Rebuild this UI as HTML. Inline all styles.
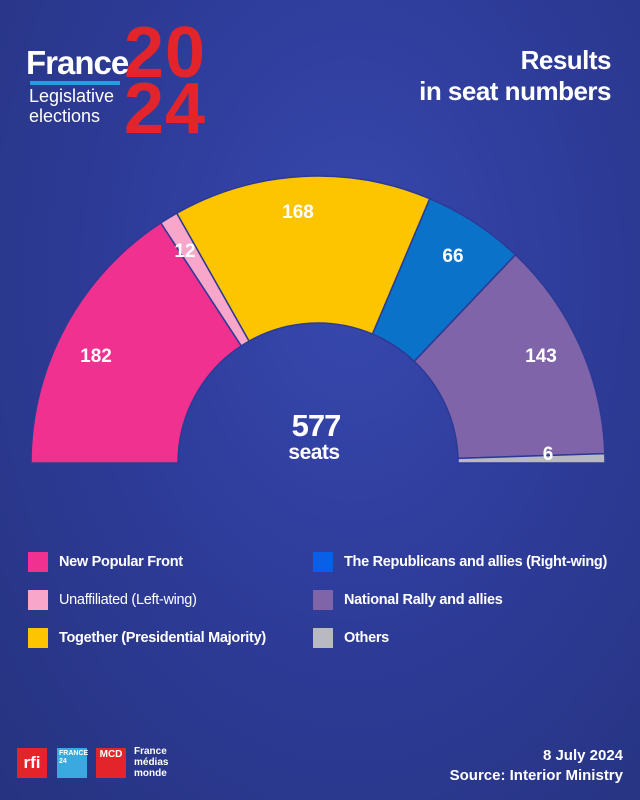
<!DOCTYPE html>
<html><head><meta charset="utf-8"><style>
body{margin:0;width:640px;height:800px;overflow:hidden;font-family:"Liberation Sans",sans-serif;}
.bg{position:absolute;left:0;top:0;width:640px;height:800px;background:radial-gradient(ellipse at 55% 35%,#3748ae 0%,#2e3c9a 45%,#26337f 100%);}
.t{position:absolute;color:#fff;font-weight:bold;}
.lg{position:absolute;color:#fff;font-size:14.5px;font-weight:bold;letter-spacing:-0.3px}
.sq{position:absolute;width:20px;height:20px;}
</style></head><body><div class="bg"></div>
<div class="t" style="left:124px;top:22px;font-size:72px;color:#e3242b;line-height:62px;letter-spacing:1px;z-index:2">20</div>
<div class="t" style="left:124px;top:78px;font-size:72px;color:#e3242b;line-height:62px;letter-spacing:1px">24</div>
<div class="t" style="left:26px;top:44px;font-size:33px;letter-spacing:-1px;z-index:3">France</div>
<div style="position:absolute;left:30px;top:81px;width:90px;height:4px;background:#1fa3e0"></div>
<div class="t" style="left:29px;top:86px;font-size:18px;font-weight:normal;line-height:20px">Legislative<br>elections</div>
<div class="t" style="right:29px;top:45px;font-size:26px;text-align:right;line-height:31px;letter-spacing:-0.5px">Results<br>in seat numbers</div>
<svg style="position:absolute;left:0;top:0" width="640" height="800">
<g stroke="#2c3a96" stroke-width="1.5">
<path d="M31,463 A287,287 0 0 1 160.8,222.9 L241.3,345.9 A140,140 0 0 0 178,463 Z" fill="#f0318f"/>
<path d="M160.8,222.9 A287,287 0 0 1 176.8,213.2 L249.1,341.1 A140,140 0 0 0 241.3,345.9 Z" fill="#f9a6cb"/>
<path d="M176.8,213.2 A287,287 0 0 1 429.8,198.7 L372.5,334.1 A140,140 0 0 0 249.1,341.1 Z" fill="#fdc400"/>
<path d="M429.8,198.7 A287,287 0 0 1 515.5,254.8 L414.3,361.4 A140,140 0 0 0 372.5,334.1 Z" fill="#0a72c8"/>
<path d="M515.5,254.8 A287,287 0 0 1 604.8,453.6 L458,458.4 A140,140 0 0 0 414.3,361.4 Z" fill="#8064aa"/>
<path d="M604.8,453.6 A287,287 0 0 1 605,463 L458,463 A140,140 0 0 0 458,458.4 Z" fill="#b9b9c4"/>
</g>
<g fill="#fff" font-family="Liberation Sans" font-weight="bold" font-size="19" text-anchor="middle">
<text x="96" y="362">182</text><text x="185" y="257">12</text><text x="298" y="218">168</text>
<text x="453" y="262">66</text><text x="541" y="362">143</text><text x="548" y="460">6</text>
<text x="316" y="436" font-size="31" letter-spacing="-1">577</text>
<text x="314" y="459" font-size="21" letter-spacing="-0.5">seats</text>
</g></svg>
<div class="sq" style="left:28px;top:552px;background:#f0318f"></div><div class="lg" style="left:59px;top:554px">New Popular Front</div>
<div class="sq" style="left:28px;top:590px;background:#f9a6cb"></div><div class="lg" style="left:59px;top:592px;font-weight:normal">Unaffiliated (Left-wing)</div>
<div class="sq" style="left:28px;top:628px;background:#fdc400"></div><div class="lg" style="left:59px;top:630px">Together (Presidential Majority)</div>
<div class="sq" style="left:313px;top:552px;background:#0a5fe8"></div><div class="lg" style="left:344px;top:554px">The Republicans and allies (Right-wing)</div>
<div class="sq" style="left:313px;top:590px;background:#8064aa"></div><div class="lg" style="left:344px;top:592px">National Rally and allies</div>
<div class="sq" style="left:313px;top:628px;background:#b9b9c4"></div><div class="lg" style="left:344px;top:630px">Others</div>
<div style="position:absolute;left:17px;top:748px;width:30px;height:30px;background:#e3242b;color:#fff;font-weight:bold;font-size:17px;text-align:center;line-height:30px">rfi</div>
<div style="position:absolute;left:57px;top:748px;width:30px;height:30px;background:#39a9e0;color:#fff;font-weight:bold;font-size:7px;line-height:8px;padding:2px;box-sizing:border-box">FRANCE<br>24</div>
<div style="position:absolute;left:96px;top:748px;width:30px;height:30px;background:#e3242b;color:#fff;font-weight:bold;font-size:10px;text-align:center;line-height:14px">MCD</div>
<div style="position:absolute;left:134px;top:746px;color:#fff;font-size:10px;line-height:11px;font-weight:bold">France<br>médias<br>monde</div>
<div class="t" style="right:17px;top:746px;font-size:15px;text-align:right;line-height:20px">8 July 2024<br>Source: Interior Ministry</div>
</body></html>
